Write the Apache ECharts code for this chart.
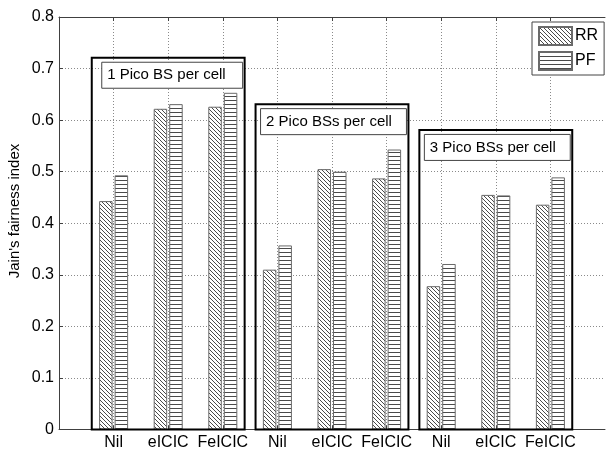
<!DOCTYPE html>
<html><head><meta charset="utf-8">
<script src="https://cdn.jsdelivr.net/npm/echarts@6/dist/echarts.min.js"></script>
<style>html,body{margin:0;padding:0;background:#fff}#c{width:608px;height:453px}</style>
</head><body><div id="c"></div>
<script>
// ---- data ----
const categories = ['Nil','eICIC','FeICIC','Nil','eICIC','FeICIC','Nil','eICIC','FeICIC'];
const rrValues = [0.443,0.622,0.626,0.310,0.505,0.487,0.278,0.455,0.436];
const pfValues = [0.493,0.631,0.653,0.357,0.500,0.543,0.321,0.454,0.489];
const groupLabels = ['1 Pico BS per cell','2 Pico BSs per cell','3 Pico BSs per cell'];
const groupBoxTops = [0.721,0.631,0.581];
const groupCenters = [2,5,8]; // category index (within padded axis) of each group's middle bar
const yLabel = "Jain's fairness index";

// ---- helpers ----
const FONT = 'Liberation Sans, Arial, Helvetica, sans-serif';
function hatch(kind){
  const c=document.createElement('canvas'); c.width=4; c.height=4;
  const g=c.getContext('2d'); g.fillStyle='#fff'; g.fillRect(0,0,4,4);
  g.fillStyle='#4a4a4a';
  if(kind==='diag'){ for(let i=0;i<4;i++) g.fillRect(i,i,1,1); }
  else { g.fillRect(0,0,4,1); }
  return {image:c, repeat:'repeat'};
}
const axisCats = [''].concat(categories, ['']);
const pad = arr => ['-'].concat(arr, ['-']);
const inner = i => i>0 && i<axisCats.length-1;
const labelInset = [10,5,5];

const chart = echarts.init(document.getElementById('c'), null, {renderer:'canvas'});
chart.setOption({
  animation:false,
  backgroundColor:'#fff',
  textStyle:{fontFamily:FONT},
  grid:{left:59, top:17, width:550, height:412.5},
  legend:{
    data:['RR','PF'], orient:'vertical', left:532, top:22,
    padding:[4,6,4,6], itemGap:5, itemWidth:33, itemHeight:18,
    icon:'rect', backgroundColor:'#fff', borderColor:'#444', borderWidth:1, borderRadius:0,
    textStyle:{fontSize:16, color:'#000', fontFamily:FONT, padding:[0,5,0,-2]}
  },
  xAxis:[{
    type:'category', data:axisCats, boundaryGap:false, position:'bottom',
    axisLine:{lineStyle:{color:'#404040', width:1}},
    axisTick:{inside:true, length:4, interval:(i)=>inner(i), lineStyle:{color:'#404040'}},
    axisLabel:{interval:0, fontSize:16, color:'#000', margin:5, fontFamily:FONT},
    splitLine:{show:true, interval:(i)=>inner(i), lineStyle:{type:[1,2], color:'#8a8a8a'}}
  },{
    type:'category', data:axisCats, boundaryGap:false, position:'top',
    axisLine:{lineStyle:{color:'#404040', width:1}},
    axisTick:{inside:true, length:4, interval:(i)=>inner(i), lineStyle:{color:'#404040'}},
    axisLabel:{show:false}, splitLine:{show:false}
  }],
  yAxis:{
    type:'value', min:0, max:0.8, interval:0.1,
    axisLine:{show:true, lineStyle:{color:'#404040'}},
    axisTick:{show:true, inside:true, length:4, lineStyle:{color:'#404040'}},
    axisLabel:{fontSize:16, color:'#000', margin:5, fontFamily:FONT},
    splitLine:{show:true, lineStyle:{type:[1,2], color:'#8a8a8a'}}
  },
  graphic:[{
    type:'text', x:15, y:211, rotation:Math.PI/2,
    style:{text:yLabel, fontSize:15, fill:'#000', fontFamily:FONT, align:'center', verticalAlign:'middle'}
  }],
  series:[{
    name:'RR', type:'bar', data:pad(rrValues), barWidth:13.5, barGap:'15%', z:2,
    itemStyle:{color:hatch('diag'), borderColor:'#6a6a6a', borderWidth:1}
  },{
    name:'PF', type:'bar', data:pad(pfValues), barWidth:13.5, barGap:'15%', z:2,
    itemStyle:{color:hatch('horiz'), borderColor:'#6a6a6a', borderWidth:1}
  },{
    name:'groups', type:'custom', z:5, silent:true,
    data:groupCenters.map((c,i)=>[c, groupBoxTops[i]]),
    renderItem:(params, api)=>{
      const idx = params.dataIndex;
      const c = api.value(0), top = api.value(1);
      const band = api.size([1,0])[0];
      const pTop = api.coord([c, top]);
      const pBase = api.coord([c, 0]);
      const x0 = pTop[0]-1.4*band, x1 = pTop[0]+1.4*band;
      const lx = x0 + labelInset[idx], ly = pTop[1]+4.5, lw = x1-2-lx, lh = 26;
      return {type:'group', children:[
        {type:'rect', shape:{x:x0, y:pTop[1], width:x1-x0, height:pBase[1]-pTop[1]},
         style:{fill:null, stroke:'#000', lineWidth:2}},
        {type:'rect', shape:{x:lx, y:ly, width:lw, height:lh},
         style:{fill:'#fff', stroke:'#444', lineWidth:1}},
        {type:'text', x:lx+5.5, y:ly+lh/2,
         style:{text:groupLabels[idx], fontSize:15, fill:'#000', fontFamily:FONT, verticalAlign:'middle', align:'left'}}
      ]};
    }
  }]
});
</script></body></html>
